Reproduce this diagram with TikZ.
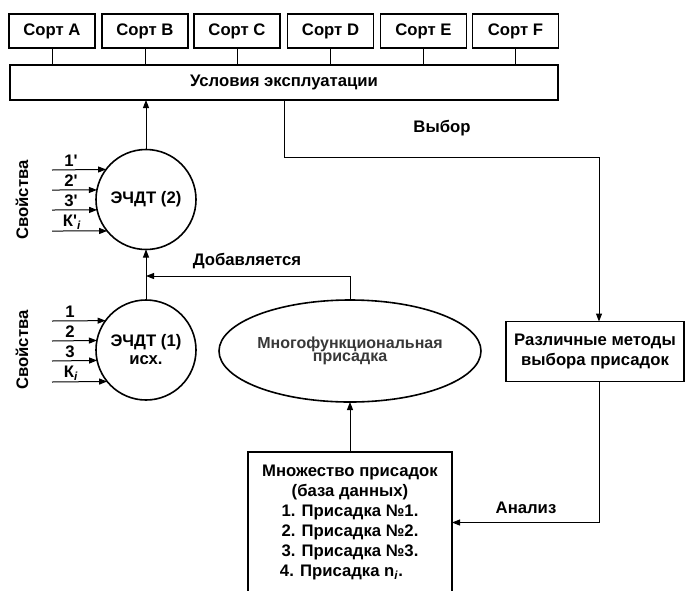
\documentclass[tikz,border=0pt]{standalone}
\usepackage{fontspec}
\setmainfont{Liberation Sans}
\usetikzlibrary{arrows.meta,shapes.geometric,calc}
\begin{document}
\begin{tikzpicture}[x=1pt,y=-1pt,
  every node/.style={font=\fontsize{16.7}{20}\selectfont\bfseries, inner sep=0pt, outer sep=0pt},
  sortbox/.style={draw, line width=1.6pt, rectangle, minimum width=86pt, minimum height=34pt},
  bigbox/.style={draw, line width=1.6pt, rectangle, align=center},
  ring/.style={draw, line width=1.6pt, circle, minimum size=100pt, align=center, font=\fontsize{16.7}{18}\selectfont\bfseries},
  oval/.style={draw, line width=1.6pt, ellipse, minimum width=210pt, minimum height=102pt, align=center},
  link/.style={line width=1pt},
  arr/.style={line width=1pt, -{Triangle[length=8pt,width=6pt]}},
  lbl/.style={font=\fontsize{16.7}{20}\selectfont\bfseries},
  side/.style={rotate=90, font=\fontsize{16.7}{20}\selectfont\bfseries}
]
\useasboundingbox (0,0) rectangle (685,590);
\clip (0,0) rectangle (685,590);

% sort boxes
\node[sortbox] (sA) at (52,31) {Сорт A};
\node[sortbox] (sB) at (145,31) {Сорт B};
\node[sortbox] (sC) at (237,31) {Сорт C};
\node[sortbox] (sD) at (330.5,31) {Сорт D};
\node[sortbox] (sE) at (423.5,31) {Сорт E};
\node[sortbox] (sF) at (515.5,31) {Сорт F};

\node[bigbox, minimum width=548pt, minimum height=35pt] (cond) at (284,82.5) {Условия эксплуатации};

\foreach \s in {sA,sB,sC,sD,sE,sF}{
  \draw[link] (\s.south) -- (\s.south |- cond.north);
}

% circles
\node[ring] (e2) at (146,199.5) {ЭЧДТ (2)};
\node[ring] (e1) at (146,350) {ЭЧДТ (1)\\исх.};

% ellipse
\node[oval, font=\fontsize{16}{10}\selectfont\bfseries, text=black!78] (mf) at (350,351) {Многофункциональная\\присадка};

% methods box
\node[bigbox, minimum width=178pt, minimum height=60pt] (meth) at (595,351.5) {Различные методы\\выбора присадок};

% database box
\node[bigbox, minimum width=204pt, minimum height=141pt] (db) at (350,522.5)
  {Множество присадок\\(база данных)\\1. Присадка №1.\\2. Присадка №2.\\3. Присадка №3.\\4. Присадка n\textsubscript{\textit{i}}.\kern17pt};

% side labels
\node[side] (sv2) at (22,200) {Свойства};
\node[side] (sv1) at (22,350) {Свойства};

% input arrows for circle 2
\coordinate (a1) at (52,170);
\coordinate (a2) at (52,190);
\coordinate (a3) at (52,210);
\coordinate (a4) at (52,231);
\draw[arr] (a1) -- (e2.143.8);
\draw[arr] (a2) -- (e2.169.1);
\draw[arr] (a3) -- (e2.192.1);
\draw[arr] (a4) -- (e2.219);
\node[lbl] (l1) at (71,161) {1\textquotesingle};
\node[lbl] (l2) at (71,181) {2\textquotesingle};
\node[lbl] (l3) at (71,201) {3\textquotesingle};
\node[lbl] (l4) at (72,222) {К\textquotesingle\textsubscript{\textit{i}}};

% input arrows for circle 1
\coordinate (b1) at (52,321);
\coordinate (b2) at (52,341);
\coordinate (b3) at (52,361);
\coordinate (b4) at (52,382);
\draw[arr] (b1) -- (e1.144.5);
\draw[arr] (b2) -- (e1.169.6);
\draw[arr] (b3) -- (e1.192.7);
\draw[arr] (b4) -- (e1.219.8);
\node[lbl] (m1) at (70,312) {1};
\node[lbl] (m2) at (70,332) {2};
\node[lbl] (m3) at (70,352) {3};
\node[lbl] (m4) at (71,373) {К\textsubscript{\textit{i}}};

% main connectors
\draw[arr] (e2.north) -- (e2.north |- cond.south);
\draw[arr] (e1.north) -- (e2.south);
\coordinate (join) at (146,276);
\draw[arr] (mf.north) |- (join);
\node[lbl] (add) at (247,261) {Добавляется};

\draw[arr] (cond.south) -- ++(0,57) -| ([xshift=4pt]meth.north);
\node[lbl] (vyb) at (442,128) {Выбор};

\draw[arr] (db.north) -- (mf.south);
\draw[arr] ([xshift=4pt]meth.south) |- (db.east);
\node[lbl] (an) at (526,508) {Анализ};
\end{tikzpicture}
\end{document}
